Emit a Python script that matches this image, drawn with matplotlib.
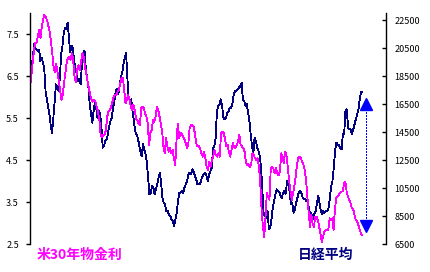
import matplotlib
matplotlib.use("Agg")
import matplotlib.pyplot as plt
import numpy as np

plt.rcParams['font.family'] = ['Noto Sans CJK JP', 'DejaVu Sans']

# US 30-year yield (%), roughly monthly, late 1994 - late 2014
yield_30y = [
    6.21, 6.5, 6.8, 7.1, 7.29, 7.3, 7.45, 7.6, 7.4, 7.67, 7.85, 7.95, 7.9, 7.83, 7.7, 7.55,
    7.32, 7.05, 6.72, 6.6, 6.8, 6.6, 6.37, 6.17, 5.93, 6.05, 6.33, 6.57, 6.81, 6.93, 6.96,
    6.88, 7.04, 6.88, 6.48, 6.36, 6.64, 6.76, 6.64, 6.84, 7.04, 6.96, 6.72, 6.57, 6.37, 6.2,
    6.05, 5.93, 5.89, 5.93, 5.89, 5.77, 5.65, 5.45, 5.1, 5.05, 5.1, 5.1, 5.21, 5.53, 5.65,
    5.69, 5.77, 5.89, 6.01, 6.05, 6.05, 6.13, 6.17, 6.33, 6.45, 6.45, 6.17, 5.85, 5.93, 6.05,
    5.93, 5.77, 5.69, 5.81, 5.69, 5.49, 5.45, 5.37, 5.33, 5.73, 5.77, 5.73, 5.61, 5.53, 5.37,
    4.86, 5.14, 5.21, 5.45, 5.41, 5.53, 5.77, 5.69, 5.53, 5.37, 5.17, 4.82, 4.66, 5.02, 4.82,
    4.70, 4.78, 4.66, 4.74, 4.54, 4.38, 4.98, 5.37, 5.02, 5.14, 5.12, 5.05, 5.0, 4.9, 4.78,
    4.9, 5.25, 5.33,
    5.33, 5.29, 5.14, 4.9, 4.82, 4.84, 4.78, 4.66, 4.58, 4.70, 4.54, 4.34, 4.26, 4.46, 4.34,
    4.5, 4.58, 4.74, 4.62, 4.58, 4.66, 4.58, 5.14, 5.17, 5.14, 5.02, 4.82, 4.86, 4.70, 4.58,
    4.74, 4.9, 4.82, 4.78, 4.86, 4.94, 5.1, 4.86, 4.82, 4.78, 4.7, 4.46, 4.38, 4.40, 4.34,
    4.38, 4.66, 4.62, 4.54, 4.50, 4.54, 4.34, 3.94, 3.31, 2.91, 2.67, 3.15, 3.71, 3.63, 3.55,
    4.30, 4.34, 4.30, 4.18,
    4.30, 4.18, 4.14, 4.22, 4.66, 4.58, 4.42, 4.70, 4.62, 4.34, 4.02, 3.79, 3.55, 3.71, 3.86,
    4.10, 4.38, 4.54, 4.58, 4.54, 4.46, 4.38, 4.26, 4.02, 3.63, 3.23, 2.91, 3.19, 2.99, 2.91,
    3.15, 3.15, 3.07, 2.91, 2.75, 2.55, 2.67, 2.79, 2.83, 2.83, 2.85, 3.11, 3.07, 3.11, 2.83,
    3.31, 3.59, 3.63, 3.67, 3.71, 3.75, 3.75, 3.94, 3.98, 3.75, 3.63, 3.55, 3.47, 3.35, 3.33,
    3.19, 3.07, 3.03, 2.95, 2.83, 2.75, 2.71,
]

# Nikkei 225 (yen), same period
nikkei = [
    20050, 19090, 19450, 20760, 20520, 20400, 20290, 20400, 19570, 19810, 19450, 18980, 17430,
    16830, 16240, 15760, 14930, 14450, 15520, 16710, 17900, 17660, 17430, 18380, 20050, 20640,
    21590, 21950, 21830, 22310, 21240, 20170, 20640, 20520, 19570, 19090, 18620, 18140, 18260,
    17900, 19330, 20170, 20290, 18980, 18380, 17660, 16480, 15760, 15160, 16000, 16590, 16240,
    15520, 16000, 15760, 14930, 13380, 13500, 13860, 13980, 14340, 14930, 15300,
    15520, 16240, 16710, 17430, 17550, 17190, 17790, 18380, 18740, 19330, 19810, 20170, 18380,
    16950, 16710, 16830, 16000, 15290, 14570, 14340, 14090, 13620, 13140, 12790, 13620, 13260,
    12910, 12310, 11240, 10050, 10160, 10640, 10520, 10050, 10410, 10760, 11240, 11590, 10880,
    9810, 9450, 9340, 8860, 8860, 8620, 8500, 8260, 8140, 7790, 8260, 8740, 9570, 10160, 10160,
    10290, 10160, 10520, 10760, 11000, 11480, 11590, 11480, 11830,
    11710, 11360, 11120, 10760, 10760, 10760, 11120, 11360, 11480, 11590, 11360, 11000, 11480,
    11710, 11950, 13380, 13500, 14090, 16000, 16360, 16480, 16830, 16360, 15520, 15410, 15520,
    15880, 16000, 16240, 16240, 16590, 17190, 17430, 17430, 17550, 17660, 17790, 18020, 16830,
    16710, 16360, 16480, 15880, 15290, 14340, 13500, 12910, 14090, 13860, 13380, 13140, 12790,
    11950, 10290, 8620, 8500, 8380, 8860, 7550, 7660, 8260, 9090, 9570, 10050, 10410,
    10290, 10230, 9930, 9810, 10160, 10290, 10100, 11000, 11000, 10160, 9340, 9450, 8740, 8980,
    9450, 9810, 10160, 10290, 10160, 9810, 9690, 9690, 9570, 9570, 8860, 8740, 8620, 8260, 8620,
    8860, 9340, 9930, 9450, 8860, 8620, 8860, 8740, 8860, 8860, 9090, 9810, 10640, 11000, 11950,
    13140, 13740, 13620, 13560, 13380, 13260, 14340, 14400, 16000, 16120, 14810, 14690, 14690,
    14340, 14690, 15050, 15410, 15760, 16120, 16830, 17360, 17360,
]

start_year, end_year = 1994.83, 2014.92
arrow_year = 2015.14
arrow_levels = [16500, 7820]   # up-arrow and down-arrow on the Nikkei scale

left_ticks = [2.5, 3.5, 4.5, 5.5, 6.5, 7.5]
right_ticks = [6500, 8500, 10500, 12500, 14500, 16500, 18500, 20500, 22500]

t_yield = np.linspace(start_year, end_year, len(yield_30y))
t_nikkei = np.linspace(start_year, end_year, len(nikkei))

fig = plt.figure(figsize=(4.3, 2.72), dpi=100)
ax = fig.add_axes([30/430, 28/272, 356/430, 231/272])
ax2 = ax.twinx()

ax2.plot(t_nikkei, nikkei, color='#000080', lw=0.6, antialiased=False)
ax.plot(t_yield, yield_30y, color='#FF00FF', lw=0.6, antialiased=False)
ax.set_zorder(ax2.get_zorder() + 1)
ax.patch.set_visible(False)

ax2.plot([arrow_year, arrow_year], [arrow_levels[0] - 350, arrow_levels[1] + 350],
         color='#0000FF', lw=0.8, ls=(0, (1.2, 1.5)), antialiased=False)
ax2.plot([arrow_year], [arrow_levels[0]], marker='^', color='#0000FF', ms=8, mec='#0000FF')
ax2.plot([arrow_year], [arrow_levels[1]], marker='v', color='#0000FF', ms=8, mec='#0000FF')

ax.set_xlim(start_year, 2016.35)
ax.set_ylim(2.5, 8.0)
ax2.set_ylim(6500, 23000)
ax.set_yticks(left_ticks)
ax2.set_yticks(right_ticks)
ax.set_yticklabels([f"{v:.1f}" for v in left_ticks])
ax2.set_yticklabels([str(v) for v in right_ticks])

for a in (ax, ax2):
    a.spines['top'].set_visible(False)
    a.spines['bottom'].set_visible(False)
    a.set_xticks([])
ax.spines['right'].set_visible(False)
ax2.spines['left'].set_visible(False)
ax.spines['left'].set_linewidth(1.0)
ax2.spines['right'].set_linewidth(1.0)
ax.tick_params(axis='y', direction='out', length=3, width=1, labelsize=6.5, pad=5)
ax2.tick_params(axis='y', direction='in', length=3, width=1, labelsize=6.5, pad=6)

fig.text(37/430, 17/272, "米30年物金利", color='#FF00FF', fontsize=10, fontweight='bold', va='center')
fig.text(298/430, 17/272, "日経平均", color='#000080', fontsize=10, fontweight='bold', va='center')

plt.savefig("out.png", dpi=100)
